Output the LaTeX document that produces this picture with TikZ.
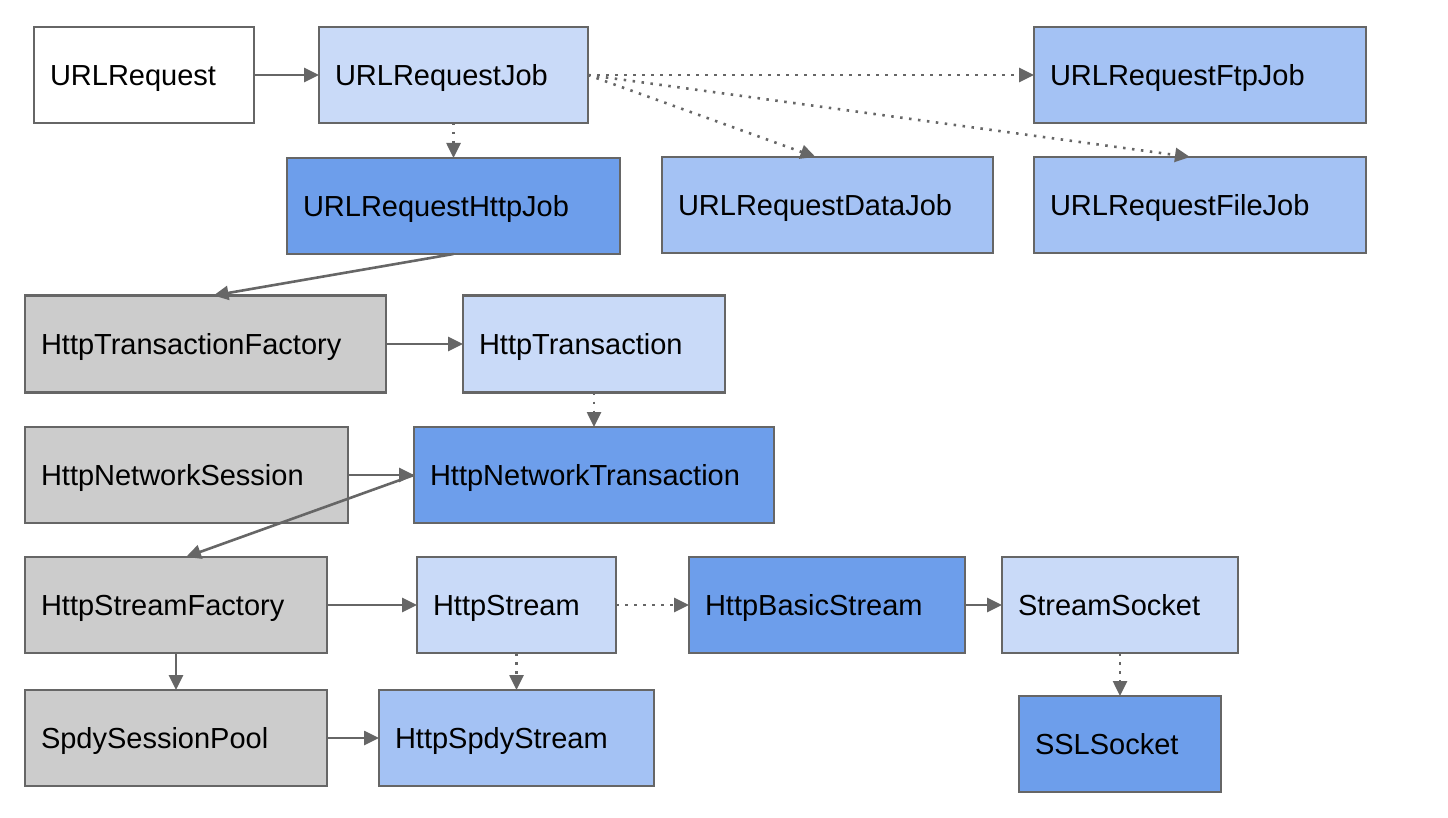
\documentclass[tikz,border=0pt]{standalone}
\usepackage{fontspec}
\setmainfont{Liberation Sans}
\usetikzlibrary{arrows.meta}
\definecolor{edgegray}{HTML}{666666}
\definecolor{lightblue}{HTML}{C9DAF8}
\definecolor{midblue}{HTML}{A4C2F4}
\definecolor{darkblue}{HTML}{6D9EEB}
\definecolor{lightgray}{HTML}{CCCCCC}
\tikzset{
  box/.style={draw=edgegray, line width=2.4pt, rectangle, inner xsep=16pt, inner ysep=0pt,
    outer sep=0pt, minimum height=96pt, align=left, text=black,
    text height=21pt, text depth=0pt,
    font=\fontsize{29}{34}\selectfont},
  conn/.style={draw=edgegray, line width=2.6pt, -{Triangle[length=15pt,width=14pt]}},
  dotconn/.style={conn, dash pattern=on 2.5pt off 6.5pt},
}
\begin{document}
\begin{tikzpicture}[x=1pt,y=1pt]
\useasboundingbox (0,0) rectangle (1448,-818);
% row 1
\node[box, fill=white, text width=188pt] (a) at (144,-75) {URLRequest};
\node[box, fill=lightblue, text width=237pt] (b) at (453.5,-75) {URLRequestJob};
\node[box, fill=midblue, text width=300pt] (c) at (1200,-75) {URLRequestFtpJob};
% row 2
\node[box, fill=darkblue, text width=301pt] (d) at (453.5,-206) {URLRequestHttpJob};
\node[box, fill=midblue, text width=299pt] (e) at (827.5,-205) {URLRequestDataJob};
\node[box, fill=midblue, text width=300pt] (f) at (1200,-205) {URLRequestFileJob};
% row 3
\node[box, fill=lightgray, text width=329pt, minimum height=97pt] (g) at (205.5,-344) {HttpTransactionFactory};
\node[box, fill=lightblue, text width=230pt, minimum height=97pt] (h) at (594,-344) {HttpTransaction};
% row 4
\node[box, fill=lightgray, text width=291pt] (i) at (186.5,-475) {HttpNetworkSession};
\node[box, fill=darkblue, text width=328pt] (j) at (594,-475) {HttpNetworkTransaction};
% row 5
\node[box, fill=lightgray, text width=270pt] (k) at (176,-605) {HttpStreamFactory};
\node[box, fill=lightblue, text width=167pt] (l) at (516.5,-605) {HttpStream};
\node[box, fill=darkblue, text width=244pt] (m) at (827,-605) {HttpBasicStream};
\node[box, fill=lightblue, text width=204pt] (n) at (1120,-605) {StreamSocket};
% row 6
\node[box, fill=lightgray, text width=270pt] (o) at (176,-738) {SpdySessionPool};
\node[box, fill=midblue, text width=243pt] (p) at (516.5,-738) {HttpSpdyStream};
\node[box, fill=darkblue, text width=170pt] (q) at (1120,-744) {SSLSocket};
% connectors
\draw[conn] (a) -- (b);
\draw[dotconn] (b) -- (d);
\draw[dotconn] (b.east) -- (c.west);
\draw[dotconn] (b.east) -- ([xshift=-12pt]e.north);
\draw[dotconn] (b.east) -- ([xshift=-10pt]f.north);
\draw[conn] (d.south) -- ([xshift=8pt]g.north);
\draw[conn] (g) -- (h);
\draw[dotconn] (h) -- (j);
\draw[conn] (i) -- (j);
\draw[conn] (j.west) -- ([xshift=10pt]k.north);
\draw[conn] (k) -- (l);
\draw[dotconn] (l) -- (m);
\draw[conn] (m) -- (n);
\draw[conn] (k) -- (o);
\draw[dotconn] (l) -- (p);
\draw[conn] (o) -- (p);
\draw[dotconn] (n) -- (q);
\end{tikzpicture}
\end{document}
